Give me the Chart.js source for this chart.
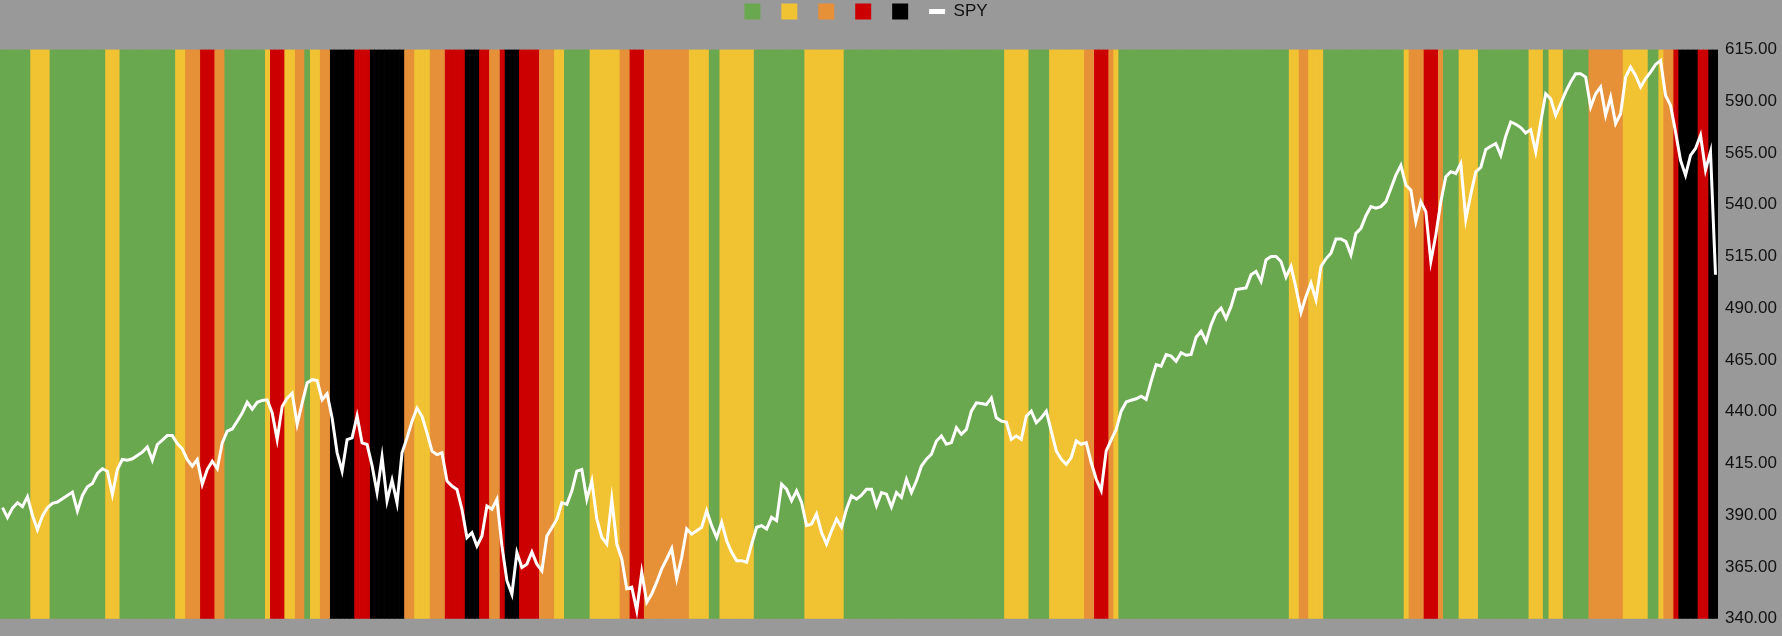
<!DOCTYPE html>
<html>
<head>
<meta charset="utf-8">
<title>SPY regimes</title>
<script src="https://cdn.jsdelivr.net/npm/chart.js@4.4.1/dist/chart.umd.min.js"></script>
<style>
  html, body { margin: 0; padding: 0; background: #999999; }
  #wrap { width: 1782px; height: 636px; position: relative; }
</style>
</head>
<body>
<div id="wrap"><canvas id="spyChart"></canvas></div>
<script>
// SPY closes (one point every ~5px)
const spy = [
  393.7, 388.9, 393.5, 396.1, 394.2, 399.0, 390.0, 383.0, 389.7, 393.7,
  395.8, 396.4, 398.0, 399.6, 401.2, 392.1, 399.6, 403.8, 405.4, 410.2,
  412.5, 411.3, 400.0, 412.1, 417.0, 416.6, 417.3, 418.9, 420.5, 423.0,
  416.6, 424.2, 426.3, 428.5, 428.5, 424.7, 422.1, 416.9, 413.7, 416.9,
  405.0, 412.1, 416.1, 412.5, 425.0, 430.6, 431.7, 435.4, 439.4, 444.6,
  441.3, 444.6, 445.5, 445.8, 439.4, 426.6, 442.6, 446.6, 449.0, 434.0,
  444.2, 453.9, 455.5, 455.1, 445.8, 448.7, 437.0, 420.2, 411.3, 426.6,
  427.4, 438.0, 425.0, 424.2, 414.0, 401.0, 418.2, 397.0, 407.0, 396.0,
  420.2, 427.4, 435.4, 441.8, 437.8, 429.8, 421.0, 419.3, 420.2, 406.5,
  404.1, 402.5, 392.9, 379.2, 381.6, 375.2, 380.0, 394.5, 392.9, 397.7,
  375.2, 358.4, 351.9, 372.0, 364.8, 366.4, 372.3, 366.4, 363.2, 380.0,
  384.0, 388.1, 396.1, 395.3, 401.7, 411.3, 412.1, 397.7, 406.6, 388.2,
  379.3, 376.1, 397.8, 376.1, 368.9, 354.5, 355.3, 344.0, 362.5, 348.0,
  352.0, 357.7, 364.1, 368.9, 374.0, 359.3, 369.7, 383.4, 380.9, 382.5,
  384.2, 392.2, 385.0, 379.3, 386.6, 377.7, 372.1, 368.1, 368.1, 367.3,
  376.1, 384.2, 385.0, 383.4, 389.0, 387.4, 405.0, 402.6, 397.0, 401.8,
  396.2, 385.0, 385.8, 390.6, 381.7, 376.1, 382.5, 388.2, 384.2, 393.0,
  399.4, 397.8, 399.7, 402.6, 402.6, 394.6, 401.0, 400.2, 394.0, 401.0,
  398.6, 407.4, 401.0, 406.6, 413.8, 417.1, 419.5, 425.9, 428.3, 424.3,
  425.1, 432.3, 429.1, 431.5, 440.3, 444.3, 444.0, 443.5, 446.7, 437.1,
  435.5, 435.0, 426.7, 428.3, 426.7, 437.9, 440.3, 434.7, 437.1, 440.3,
  430.7, 421.1, 417.1, 414.6, 417.9, 425.9, 424.3, 425.1, 415.5, 407.4,
  402.0, 421.1, 426.4, 431.5, 440.3, 444.7, 445.6, 446.3, 447.5, 446.0,
  454.8, 462.8, 462.0, 467.6, 466.9, 464.4, 468.5, 467.3, 467.7, 476.0,
  478.9, 474.0, 482.0, 487.7, 490.1, 485.0, 490.9, 499.0, 499.4, 499.8,
  506.2, 507.8, 503.0, 513.4, 515.0, 515.0, 512.6, 505.0, 510.2, 499.8,
  488.0, 495.7, 502.2, 494.1, 510.2, 513.9, 516.6, 523.5, 523.5, 522.2,
  515.8, 526.2, 528.6, 534.7, 539.1, 538.3, 539.1, 541.5, 547.9, 554.3,
  559.0, 549.5, 547.1, 531.9, 541.5, 536.7, 512.6, 525.4, 541.5, 553.5,
  556.0, 555.1, 560.0, 533.0, 545.0, 555.9, 558.0, 566.7, 568.3, 569.6,
  563.9, 573.1, 580.0, 578.9, 577.3, 574.7, 576.3, 565.6, 580.0, 593.6,
  591.2, 583.2, 588.8, 594.5, 599.3, 603.3, 603.3, 601.7, 587.2, 593.6,
  596.9, 583.2, 592.0, 579.2, 584.0, 601.7, 606.5, 602.5, 596.9, 600.9,
  604.1, 607.8, 609.7, 592.8, 588.0, 575.2, 561.5, 554.3, 563.9, 567.2,
  573.6, 556.7, 565.6, 506.2
];

// regime bands as runs: colour code + number of points it covers
const bandCodes = [
  'G','Y','G','Y','G','Y','O','R','O','G','Y','R','Y','O','G','Y','O','K','R','K',
  'O','Y','O','R','K','R','O','R','K','R','O','Y','G','Y','O','R','O','Y','G','Y',
  'G','Y','G','Y','G','Y','O','R','O','Y','G','Y','O','Y','G','Y','O','R','O','G',
  'Y','G','Y','G','Y','G','O','Y','G','Y','O','R','K','R','K'
];
const bandRuns = [
  6, 4, 11, 3, 11, 2, 3, 3, 2, 8, 1, 3, 2, 2, 1, 2, 2, 5, 3, 7,
  2, 3, 3, 4, 3, 2, 2, 1, 3, 4, 3, 2, 5, 6, 2, 3, 9, 4, 2, 7,
  10, 8, 32, 5, 4, 7, 2, 3, 1, 1, 34, 2, 2, 3, 16, 1, 3, 3, 1, 3,
  4, 10, 3, 1, 3, 5, 7, 5, 2, 1, 2, 1, 4, 2, 2
];

const regimeOrder = ['G', 'Y', 'O', 'R', 'K'];
const regimeColors = { G: '#6aa84f', Y: '#f1c232', O: '#e69138', R: '#cc0000', K: '#000000' };

const yMin = 340;
const yMax = 615;
const yStep = 25;

const regime = [];
bandCodes.forEach((c, j) => {
  for (let k = 0; k < bandRuns[j]; k++) regime.push(c);
});
const labels = spy.map((_, i) => i + 1);

const textColor = '#111111';
const font = { family: 'Arial, "Liberation Sans", Helvetica, sans-serif', size: 17 };
Chart.defaults.color = textColor;
Chart.defaults.font.family = font.family;

const bandSets = regimeOrder.map(code => ({
  type: 'bar',
  label: code,
  data: regime.map(r => (r === code ? yMax : null)),
  backgroundColor: regimeColors[code],
  borderWidth: 0,
  barPercentage: 1,
  categoryPercentage: 1,
  grouped: false,
  order: 1
}));

// legend sits a bit right of the plot centre in the original
const legendNudge = {
  id: 'legendNudge',
  afterLayout(chart) {
    chart.legend.left += 7;
    chart.legend.right += 7;
  }
};

const ctx = document.getElementById('spyChart');

new Chart(ctx, {
  type: 'bar',
  data: {
    labels: labels,
    datasets: [
      {
        type: 'line',
        label: 'SPY',
        data: spy,
        borderColor: '#ffffff',
        borderWidth: 3,
        pointRadius: 0,
        tension: 0,
        order: 0
      },
      ...bandSets
    ]
  },
  plugins: [legendNudge],
  options: {
    responsive: true,
    maintainAspectRatio: false,
    animation: false,
    layout: { padding: { bottom: 16 } },
    plugins: {
      tooltip: { enabled: false },
      legend: {
        position: 'top',
        fullSize: false,
        labels: {
          usePointStyle: true,
          pointStyleWidth: 16,
          boxHeight: 16,
          padding: 3,
          color: textColor,
          font: font,
          generateLabels: () => [
            ...regimeOrder.map(code => ({
              text: '  ',
              fillStyle: regimeColors[code],
              strokeStyle: regimeColors[code],
              fontColor: textColor,
              lineWidth: 0,
              pointStyle: 'rect',
              hidden: false
            })),
            {
              text: 'SPY',
              fillStyle: '#ffffff',
              strokeStyle: '#ffffff',
              fontColor: textColor,
              lineWidth: 5,
              pointStyle: 'line',
              hidden: false
            }
          ]
        }
      }
    },
    scales: {
      x: {
        position: 'top',
        grid: { display: false, drawTicks: false },
        border: { display: false },
        ticks: { display: false },
        afterFit: s => { s.height = 19.5; }
      },
      y: {
        position: 'right',
        min: yMin,
        max: yMax,
        grid: { display: false, drawTicks: false },
        border: { display: false },
        ticks: {
          stepSize: yStep,
          padding: 7,
          color: textColor,
          font: font,
          callback: v => v.toFixed(2)
        },
        afterFit: s => { s.width = 64; }
      }
    }
  }
});
</script>
</body>
</html>
